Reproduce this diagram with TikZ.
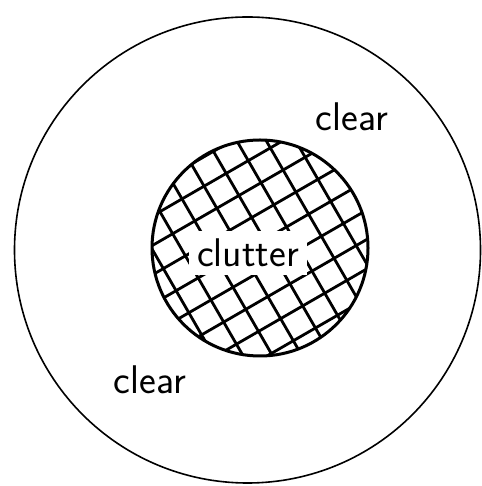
\documentclass[tikz,border=0pt]{standalone}

\tikzset{
  schrift/.style={font=\sffamily\fontsize{40}{44}\selectfont},
  raster/.style={line width=2.8pt, line cap=round}
}

\begin{document}
\begin{tikzpicture}[x=1pt,y=1pt]

\useasboundingbox (0,0) rectangle (481,486);

% Aussenkreis
\node[circle, draw, line width=1.6pt, minimum size=466pt, inner sep=0pt] (aussen) at (247.5,236) {};

% Innenkreis mit Gitter
\begin{scope}
  \clip (260,238) circle (108);
  \begin{scope}[shift={(260,238)}, rotate=30]
    \foreach \i in {-5,...,5} {
      \draw[raster] (\i*25.5+8,-130) -- (\i*25.5+8,130);
      \draw[raster] (-130,\i*25.5+5) -- (130,\i*25.5+5);
    }
  \end{scope}
\end{scope}
\node[circle, draw, line width=3pt, minimum size=216pt, inner sep=0pt] (innen) at (260,238) {};

% Beschriftung
\node[schrift, fill=white, inner xsep=8pt, inner ysep=8pt] (clutter) at (248,233) {clutter};
\node[schrift] (clearoben) at (352,369) {clear};
\node[schrift] (clearunten) at (150,106) {clear};

\end{tikzpicture}
\end{document}
